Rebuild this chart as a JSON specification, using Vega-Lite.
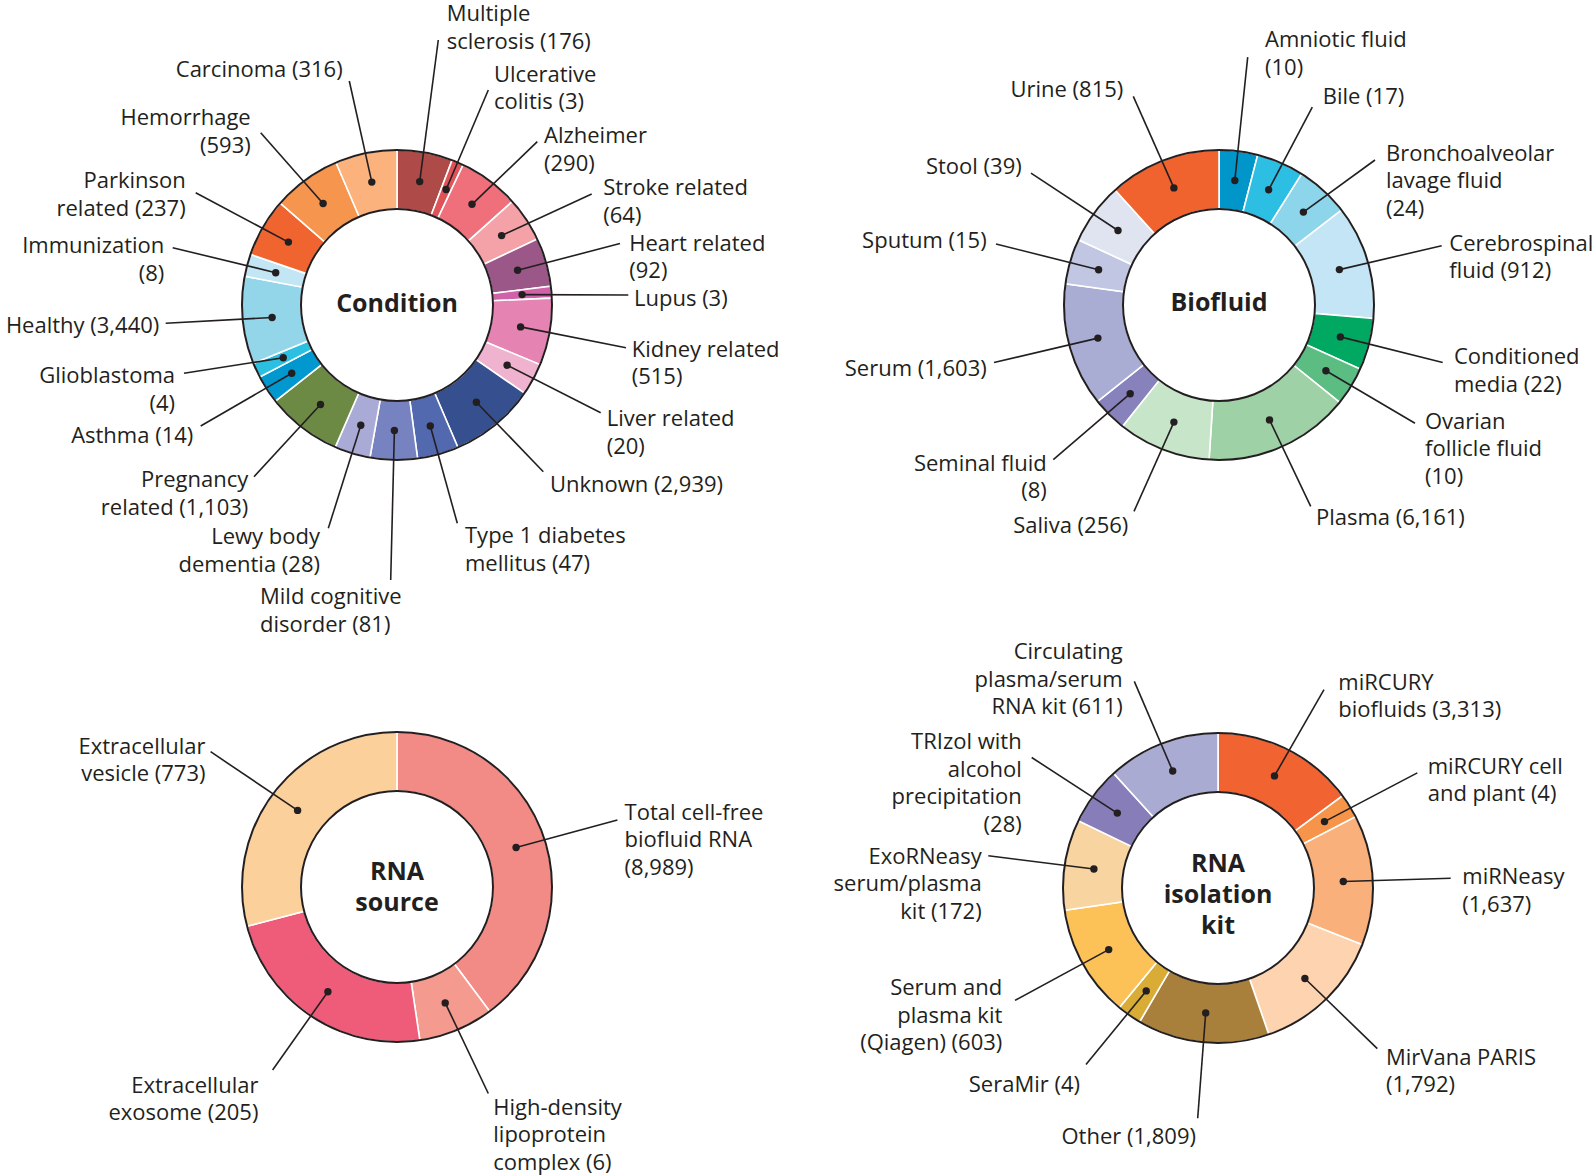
{
  "$schema": "https://vega.github.io/schema/vega-lite/v6.json",
  "width": 1595,
  "height": 1176,
  "autosize": {"type": "none"},
  "padding": 0,
  "background": "white",
  "config": {"view": {"stroke": null}, "font": "Open Sans"},
  "datasets": {
    "seg": [
      {"chart": "Condition", "o": 1, "name": "Multiple sclerosis", "n": 176},
      {"chart": "Condition", "o": 2, "name": "Ulcerative colitis", "n": 3},
      {"chart": "Condition", "o": 3, "name": "Alzheimer", "n": 290},
      {"chart": "Condition", "o": 4, "name": "Stroke related", "n": 64},
      {"chart": "Condition", "o": 5, "name": "Heart related", "n": 92},
      {"chart": "Condition", "o": 6, "name": "Lupus", "n": 3},
      {"chart": "Condition", "o": 7, "name": "Kidney related", "n": 515},
      {"chart": "Condition", "o": 8, "name": "Liver related", "n": 20},
      {"chart": "Condition", "o": 9, "name": "Unknown", "n": 2939},
      {"chart": "Condition", "o": 10, "name": "Type 1 diabetes mellitus", "n": 47},
      {"chart": "Condition", "o": 11, "name": "Mild cognitive disorder", "n": 81},
      {"chart": "Condition", "o": 12, "name": "Lewy body dementia", "n": 28},
      {"chart": "Condition", "o": 13, "name": "Pregnancy related", "n": 1103},
      {"chart": "Condition", "o": 14, "name": "Asthma", "n": 14},
      {"chart": "Condition", "o": 15, "name": "Glioblastoma", "n": 4},
      {"chart": "Condition", "o": 16, "name": "Healthy", "n": 3440},
      {"chart": "Condition", "o": 17, "name": "Immunization", "n": 8},
      {"chart": "Condition", "o": 18, "name": "Parkinson related", "n": 237},
      {"chart": "Condition", "o": 19, "name": "Hemorrhage", "n": 593},
      {"chart": "Condition", "o": 20, "name": "Carcinoma", "n": 316},
      {"chart": "Biofluid", "o": 1, "name": "Amniotic fluid", "n": 10},
      {"chart": "Biofluid", "o": 2, "name": "Bile", "n": 17},
      {"chart": "Biofluid", "o": 3, "name": "Bronchoalveolar lavage fluid", "n": 24},
      {"chart": "Biofluid", "o": 4, "name": "Cerebrospinal fluid", "n": 912},
      {"chart": "Biofluid", "o": 5, "name": "Conditioned media", "n": 22},
      {"chart": "Biofluid", "o": 6, "name": "Ovarian follicle fluid", "n": 10},
      {"chart": "Biofluid", "o": 7, "name": "Plasma", "n": 6161},
      {"chart": "Biofluid", "o": 8, "name": "Saliva", "n": 256},
      {"chart": "Biofluid", "o": 9, "name": "Seminal fluid", "n": 8},
      {"chart": "Biofluid", "o": 10, "name": "Serum", "n": 1603},
      {"chart": "Biofluid", "o": 11, "name": "Sputum", "n": 15},
      {"chart": "Biofluid", "o": 12, "name": "Stool", "n": 39},
      {"chart": "Biofluid", "o": 13, "name": "Urine", "n": 815},
      {"chart": "RNA source", "o": 1, "name": "Total cell-free biofluid RNA", "n": 8989},
      {"chart": "RNA source", "o": 2, "name": "High-density lipoprotein complex", "n": 6},
      {"chart": "RNA source", "o": 3, "name": "Extracellular exosome", "n": 205},
      {"chart": "RNA source", "o": 4, "name": "Extracellular vesicle", "n": 773},
      {"chart": "RNA isolation kit", "o": 1, "name": "miRCURY biofluids", "n": 3313},
      {"chart": "RNA isolation kit", "o": 2, "name": "miRCURY cell and plant", "n": 4},
      {"chart": "RNA isolation kit", "o": 3, "name": "miRNeasy", "n": 1637},
      {"chart": "RNA isolation kit", "o": 4, "name": "MirVana PARIS", "n": 1792},
      {"chart": "RNA isolation kit", "o": 5, "name": "Other", "n": 1809},
      {"chart": "RNA isolation kit", "o": 6, "name": "SeraMir", "n": 4},
      {"chart": "RNA isolation kit", "o": 7, "name": "Serum and plasma kit (Qiagen)", "n": 603},
      {"chart": "RNA isolation kit", "o": 8, "name": "ExoRNeasy serum/plasma kit", "n": 172},
      {"chart": "RNA isolation kit", "o": 9, "name": "TRIzol with alcohol precipitation", "n": 28},
      {"chart": "RNA isolation kit", "o": 10, "name": "Circulating plasma/serum RNA kit", "n": 611}
    ],
    "hubs": [
      {"chart": "Condition", "title": "Condition", "cx": 397, "cy": 305, "ty": 312},
      {"chart": "Biofluid", "title": "Biofluid", "cx": 1219, "cy": 305, "ty": 311},
      {"chart": "RNA source", "title": "RNA\nsource", "cx": 397, "cy": 887, "ty": 880},
      {"chart": "RNA isolation kit", "title": "RNA\nisolation\nkit", "cx": 1218, "cy": 888, "ty": 872}
    ],
    "notes": [
      {"name": "Multiple sclerosis", "label": "Multiple\nsclerosis (176)", "side": "R", "lx": 446.7, "ly": 21, "ex": 438.3, "ey": 40, "px": 419.7, "py": 181.6},
      {"name": "Ulcerative colitis", "label": "Ulcerative\ncolitis (3)", "side": "R", "lx": 494, "ly": 81.7, "ex": 488.3, "ey": 90, "px": 446.1, "py": 189.5},
      {"name": "Alzheimer", "label": "Alzheimer\n(290)", "side": "R", "lx": 544, "ly": 143.3, "ex": 537.3, "ey": 141.7, "px": 472, "py": 204.3},
      {"name": "Stroke related", "label": "Stroke related\n(64)", "side": "R", "lx": 603.3, "ly": 195, "ex": 591.7, "ey": 194, "px": 501.6, "py": 235.6},
      {"name": "Heart related", "label": "Heart related\n(92)", "side": "R", "lx": 629.3, "ly": 250.5, "ex": 620, "ey": 243.5, "px": 517.6, "py": 270.3},
      {"name": "Lupus", "label": "Lupus (3)", "side": "R", "lx": 634, "ly": 306.2, "ex": 628.3, "ey": 295, "px": 522.1, "py": 294.6},
      {"name": "Kidney related", "label": "Kidney related\n(515)", "side": "R", "lx": 631.7, "ly": 356.7, "ex": 626, "ey": 347.7, "px": 520.6, "py": 326.9},
      {"name": "Liver related", "label": "Liver related\n(20)", "side": "R", "lx": 606.7, "ly": 426, "ex": 600.7, "ey": 412.7, "px": 507.1, "py": 365.2},
      {"name": "Unknown", "label": "Unknown (2,939)", "side": "R", "lx": 550, "ly": 491.7, "ex": 543.3, "ey": 471.7, "px": 476.4, "py": 402.2},
      {"name": "Type 1 diabetes mellitus", "label": "Type 1 diabetes\nmellitus (47)", "side": "R", "lx": 465, "ly": 543.3, "ex": 457.3, "ey": 523.3, "px": 430.3, "py": 426},
      {"name": "Mild cognitive disorder", "label": "Mild cognitive\ndisorder (81)", "side": "R", "lx": 260, "ly": 604, "ex": 390.7, "ey": 580, "px": 394.4, "py": 430.5},
      {"name": "Lewy body dementia", "label": "Lewy body\ndementia (28)", "side": "L", "lx": 320, "ly": 544.3, "ex": 328.3, "ey": 528.3, "px": 360.8, "py": 425.2},
      {"name": "Pregnancy related", "label": "Pregnancy\nrelated (1,103)", "side": "L", "lx": 248.3, "ly": 487.3, "ex": 254, "ey": 476.7, "px": 320.5, "py": 404.5},
      {"name": "Asthma", "label": "Asthma (14)", "side": "L", "lx": 193.3, "ly": 443.3, "ex": 200.7, "ey": 426, "px": 291.7, "py": 373.3},
      {"name": "Glioblastoma", "label": "Glioblastoma\n(4)", "side": "L", "lx": 175, "ly": 383.3, "ex": 184, "ey": 373.3, "px": 283.2, "py": 357.8},
      {"name": "Healthy", "label": "Healthy (3,440)", "side": "L", "lx": 159.3, "ly": 333.3, "ex": 165.7, "ey": 323.3, "px": 272.1, "py": 317.5},
      {"name": "Immunization", "label": "Immunization\n(8)", "side": "L", "lx": 164.3, "ly": 253.3, "ex": 172.7, "ey": 247.7, "px": 275.7, "py": 272.7},
      {"name": "Parkinson related", "label": "Parkinson\nrelated (237)", "side": "L", "lx": 185.7, "ly": 188.3, "ex": 195.7, "ey": 192.7, "px": 288.4, "py": 242.1},
      {"name": "Hemorrhage", "label": "Hemorrhage\n(593)", "side": "L", "lx": 250.7, "ly": 125, "ex": 260.7, "ey": 132.7, "px": 323.1, "py": 203.5},
      {"name": "Carcinoma", "label": "Carcinoma (316)", "side": "L", "lx": 342.7, "ly": 77.3, "ex": 349.3, "ey": 81, "px": 371.8, "py": 182.1},
      {"name": "Amniotic fluid", "label": "Amniotic fluid\n(10)", "side": "R", "lx": 1265, "ly": 47.1, "ex": 1247.7, "ey": 57.1, "px": 1234.8, "py": 180.5},
      {"name": "Bile", "label": "Bile (17)", "side": "R", "lx": 1322.7, "ly": 103.6, "ex": 1312.3, "ey": 107.1, "px": 1268.7, "py": 189.8},
      {"name": "Bronchoalveolar lavage fluid", "label": "Bronchoalveolar\nlavage fluid\n(24)", "side": "R", "lx": 1386, "ly": 160.7, "ex": 1375, "ey": 160, "px": 1303.4, "py": 212.1},
      {"name": "Cerebrospinal fluid", "label": "Cerebrospinal\nfluid (912)", "side": "R", "lx": 1449.3, "ly": 250.7, "ex": 1441.7, "ey": 245.7, "px": 1339.4, "py": 269.6},
      {"name": "Conditioned media", "label": "Conditioned\nmedia (22)", "side": "R", "lx": 1454, "ly": 364.3, "ex": 1442.7, "ey": 362.5, "px": 1340.4, "py": 336.9},
      {"name": "Ovarian follicle fluid", "label": "Ovarian\nfollicle fluid\n(10)", "side": "R", "lx": 1425, "ly": 428.6, "ex": 1415, "ey": 423.2, "px": 1325.9, "py": 370.8},
      {"name": "Plasma", "label": "Plasma (6,161)", "side": "R", "lx": 1316, "ly": 525, "ex": 1310.7, "ey": 506.4, "px": 1269.5, "py": 419.9},
      {"name": "Saliva", "label": "Saliva (256)", "side": "L", "lx": 1128.3, "ly": 533.2, "ex": 1134, "ey": 511.4, "px": 1173.9, "py": 422.1},
      {"name": "Seminal fluid", "label": "Seminal fluid\n(8)", "side": "L", "lx": 1046.7, "ly": 470.7, "ex": 1053.3, "ey": 459.6, "px": 1130.2, "py": 393.7},
      {"name": "Serum", "label": "Serum (1,603)", "side": "L", "lx": 986.7, "ly": 376, "ex": 994, "ey": 362.5, "px": 1097.9, "py": 338.1},
      {"name": "Sputum", "label": "Sputum (15)", "side": "L", "lx": 986.7, "ly": 248.2, "ex": 996, "ey": 244, "px": 1098.6, "py": 269.7},
      {"name": "Stool", "label": "Stool (39)", "side": "L", "lx": 1021.7, "ly": 174, "ex": 1031, "ey": 173.2, "px": 1118, "py": 230.5},
      {"name": "Urine", "label": "Urine (815)", "side": "L", "lx": 1123.3, "ly": 97.1, "ex": 1133.3, "ey": 96.4, "px": 1173.9, "py": 187.9},
      {"name": "Total cell-free biofluid RNA", "label": "Total cell-free\nbiofluid RNA\n(8,989)", "side": "R", "lx": 624.6, "ly": 819.9, "ex": 617.4, "ey": 819.9, "px": 516.1, "py": 847.5},
      {"name": "High-density lipoprotein complex", "label": "High-density\nlipoprotein\ncomplex (6)", "side": "R", "lx": 493.3, "ly": 1114.9, "ex": 488.3, "ey": 1093.5, "px": 445.2, "py": 1002.9},
      {"name": "Extracellular exosome", "label": "Extracellular\nexosome (205)", "side": "L", "lx": 258.4, "ly": 1092.5, "ex": 272.6, "ey": 1070, "px": 327.9, "py": 991.8},
      {"name": "Extracellular vesicle", "label": "Extracellular\nvesicle (773)", "side": "L", "lx": 205.5, "ly": 753.7, "ex": 210.6, "ey": 751.7, "px": 297.6, "py": 810.4},
      {"name": "miRCURY biofluids", "label": "miRCURY\nbiofluids (3,313)", "side": "R", "lx": 1338.3, "ly": 689.6, "ex": 1324, "ey": 689.6, "px": 1274.5, "py": 775.9},
      {"name": "miRCURY cell and plant", "label": "miRCURY cell\nand plant (4)", "side": "R", "lx": 1427.7, "ly": 773.6, "ex": 1417.3, "ey": 772.9, "px": 1324.5, "py": 821.6},
      {"name": "miRNeasy", "label": "miRNeasy\n(1,637)", "side": "R", "lx": 1462.3, "ly": 884.3, "ex": 1450.7, "ey": 878.2, "px": 1343.3, "py": 881.5},
      {"name": "MirVana PARIS", "label": "MirVana PARIS\n(1,792)", "side": "R", "lx": 1386, "ly": 1064.6, "ex": 1377.3, "ey": 1048.6, "px": 1304.9, "py": 978.5},
      {"name": "Other", "label": "Other (1,809)", "side": "L", "lx": 1196, "ly": 1144.3, "ex": 1197.7, "ey": 1118.2, "px": 1205.7, "py": 1012.9},
      {"name": "SeraMir", "label": "SeraMir (4)", "side": "L", "lx": 1080, "ly": 1092.1, "ex": 1086, "ey": 1064.6, "px": 1146.2, "py": 990.9},
      {"name": "Serum and plasma kit (Qiagen)", "label": "Serum and\nplasma kit\n(Qiagen) (603)", "side": "L", "lx": 1002.3, "ly": 995, "ex": 1015, "ey": 1000.4, "px": 1108.7, "py": 949.6},
      {"name": "ExoRNeasy serum/plasma kit", "label": "ExoRNeasy\nserum/plasma\nkit (172)", "side": "L", "lx": 981.7, "ly": 863.9, "ex": 988.3, "ey": 855.7, "px": 1093.9, "py": 869},
      {"name": "TRIzol with alcohol precipitation", "label": "TRIzol with\nalcohol\nprecipitation\n(28)", "side": "L", "lx": 1021.7, "ly": 749.3, "ex": 1031.7, "ey": 757.5, "px": 1117.3, "py": 813.1},
      {"name": "Circulating plasma/serum RNA kit", "label": "Circulating\nplasma/serum\nRNA kit (611)", "side": "L", "lx": 1122.7, "ly": 659.3, "ex": 1134.3, "ey": 681.4, "px": 1172.7, "py": 771}
    ]
  },
  "resolve": {"scale": {"color": "independent"}},
  "layer": [
    {
      "data": {"name": "seg"},
      "transform": [{"filter": "datum.chart == 'Condition'"}, {"calculate": "log(datum.n) / LN10", "as": "w"}],
      "mark": {"type": "arc", "innerRadius": 96, "outerRadius": 155, "stroke": "white", "strokeWidth": 1.6},
      "encoding": {
        "x": {"datum": 397, "type": "quantitative", "scale": {"domain": [0, 1595], "nice": false, "zero": false}, "axis": null},
        "y": {"datum": 305, "type": "quantitative", "scale": {"domain": [0, 1176], "reverse": true, "nice": false, "zero": false}, "axis": null},
        "theta": {"field": "w", "type": "quantitative", "stack": "normalize"},
        "order": {"field": "o", "type": "quantitative"},
        "color": {"field": "name", "type": "nominal", "legend": null, "scale": {
          "domain": ["Multiple sclerosis", "Ulcerative colitis", "Alzheimer", "Stroke related", "Heart related", "Lupus", "Kidney related", "Liver related", "Unknown", "Type 1 diabetes mellitus", "Mild cognitive disorder", "Lewy body dementia", "Pregnancy related", "Asthma", "Glioblastoma", "Healthy", "Immunization", "Parkinson related", "Hemorrhage", "Carcinoma"],
          "range": ["#AE4A47", "#DF5358", "#EF6F7A", "#F4A2A8", "#9B5787", "#CF62A8", "#E583B3", "#F0B3CF", "#36508F", "#5268AF", "#7683C0", "#A9AAD6", "#6C8A43", "#0098CE", "#2BBFE2", "#93D6E9", "#C3E6F5", "#F0642F", "#F6954E", "#FBB27C"]}}
      }
    },
    {
      "data": {"name": "seg"},
      "transform": [{"filter": "datum.chart == 'Biofluid'"}, {"calculate": "log(datum.n) / LN10", "as": "w"}],
      "mark": {"type": "arc", "innerRadius": 96, "outerRadius": 155, "stroke": "white", "strokeWidth": 1.6},
      "encoding": {
        "x": {"datum": 1219, "type": "quantitative"},
        "y": {"datum": 305, "type": "quantitative"},
        "theta": {"field": "w", "type": "quantitative", "stack": "normalize"},
        "order": {"field": "o", "type": "quantitative"},
        "color": {"field": "name", "type": "nominal", "legend": null, "scale": {
          "domain": ["Amniotic fluid", "Bile", "Bronchoalveolar lavage fluid", "Cerebrospinal fluid", "Conditioned media", "Ovarian follicle fluid", "Plasma", "Saliva", "Seminal fluid", "Serum", "Sputum", "Stool", "Urine"],
          "range": ["#0096CA", "#2DBEE3", "#8DD5EA", "#C3E5F5", "#00A862", "#5BBD82", "#9ED1A5", "#C7E5C8", "#8781BC", "#A9ACD3", "#C1C7E3", "#E0E3F0", "#F0632F"]}}
      }
    },
    {
      "data": {"name": "seg"},
      "transform": [{"filter": "datum.chart == 'RNA source'"}, {"calculate": "log(datum.n) / LN10", "as": "w"}],
      "mark": {"type": "arc", "innerRadius": 96, "outerRadius": 155, "stroke": "white", "strokeWidth": 1.6},
      "encoding": {
        "x": {"datum": 397, "type": "quantitative"},
        "y": {"datum": 887, "type": "quantitative"},
        "theta": {"field": "w", "type": "quantitative", "stack": "normalize"},
        "order": {"field": "o", "type": "quantitative"},
        "color": {"field": "name", "type": "nominal", "legend": null, "scale": {
          "domain": ["Total cell-free biofluid RNA", "High-density lipoprotein complex", "Extracellular exosome", "Extracellular vesicle"],
          "range": ["#F28B85", "#F59A8E", "#EE5C79", "#FCD09A"]}}
      }
    },
    {
      "data": {"name": "seg"},
      "transform": [{"filter": "datum.chart == 'RNA isolation kit'"}, {"calculate": "log(datum.n) / LN10", "as": "w"}],
      "mark": {"type": "arc", "innerRadius": 96, "outerRadius": 155, "stroke": "white", "strokeWidth": 1.6},
      "encoding": {
        "x": {"datum": 1218, "type": "quantitative"},
        "y": {"datum": 888, "type": "quantitative"},
        "theta": {"field": "w", "type": "quantitative", "stack": "normalize"},
        "order": {"field": "o", "type": "quantitative"},
        "color": {"field": "name", "type": "nominal", "legend": null, "scale": {
          "domain": ["miRCURY biofluids", "miRCURY cell and plant", "miRNeasy", "MirVana PARIS", "Other", "SeraMir", "Serum and plasma kit (Qiagen)", "ExoRNeasy serum/plasma kit", "TRIzol with alcohol precipitation", "Circulating plasma/serum RNA kit"],
          "range": ["#F16330", "#F6954A", "#FAB07B", "#FDD4AF", "#A8803B", "#D8AC35", "#FDC257", "#F8D4A0", "#877EB9", "#A9ABD2"]}}
      }
    },
    {
      "data": {"name": "hubs"},
      "mark": {"type": "arc", "innerRadius": 96, "outerRadius": 155, "theta": 0, "theta2": 6.2832, "fill": null, "filled": false, "stroke": "#231F20", "strokeWidth": 2},
      "encoding": {
        "x": {"field": "cx", "type": "quantitative"},
        "y": {"field": "cy", "type": "quantitative"}
      }
    },
    {
      "data": {"name": "notes"},
      "mark": {"type": "rule", "stroke": "#231F20", "strokeWidth": 1.6},
      "encoding": {
        "x": {"field": "px", "type": "quantitative"},
        "y": {"field": "py", "type": "quantitative"},
        "x2": {"field": "ex"},
        "y2": {"field": "ey"}
      }
    },
    {
      "data": {"name": "notes"},
      "mark": {"type": "point", "filled": true, "shape": "circle", "size": 55, "color": "#231F20", "opacity": 1},
      "encoding": {
        "x": {"field": "px", "type": "quantitative"},
        "y": {"field": "py", "type": "quantitative"}
      }
    },
    {
      "data": {"name": "notes"},
      "transform": [{"filter": "datum.side == 'R'"}],
      "mark": {"type": "text", "align": "left", "baseline": "alphabetic", "fontSize": 22, "lineHeight": 27.5, "lineBreak": "\n", "color": "#231F20", "font": "Open Sans"},
      "encoding": {
        "x": {"field": "lx", "type": "quantitative"},
        "y": {"field": "ly", "type": "quantitative"},
        "text": {"field": "label", "type": "nominal"}
      }
    },
    {
      "data": {"name": "notes"},
      "transform": [{"filter": "datum.side == 'L'"}],
      "mark": {"type": "text", "align": "right", "baseline": "alphabetic", "fontSize": 22, "lineHeight": 27.5, "lineBreak": "\n", "color": "#231F20", "font": "Open Sans"},
      "encoding": {
        "x": {"field": "lx", "type": "quantitative"},
        "y": {"field": "ly", "type": "quantitative"},
        "text": {"field": "label", "type": "nominal"}
      }
    },
    {
      "data": {"name": "hubs"},
      "mark": {"type": "text", "align": "center", "baseline": "alphabetic", "fontSize": 25, "fontWeight": "bold", "lineHeight": 31, "lineBreak": "\n", "color": "#231F20", "font": "Open Sans"},
      "encoding": {
        "x": {"field": "cx", "type": "quantitative"},
        "y": {"field": "ty", "type": "quantitative"},
        "text": {"field": "title", "type": "nominal"}
      }
    }
  ]
}
